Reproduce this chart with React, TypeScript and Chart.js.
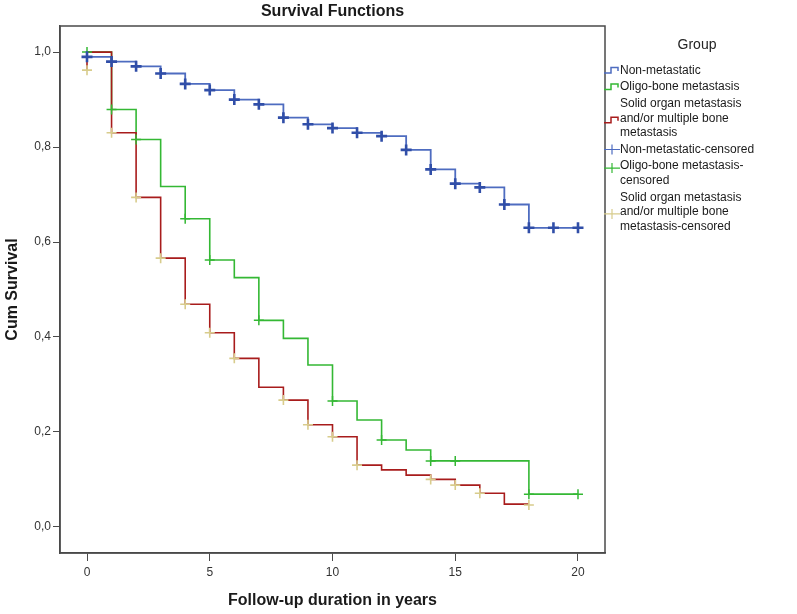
import React, { useEffect, useRef } from "react";
import { Chart, registerables } from "chart.js";

Chart.register(...registerables);

// ---- Data ----
const chartTitle = "Survival Functions";
const xAxisTitle = "Follow-up duration in years";
const yAxisTitle = "Cum Survival";
const legendTitle = "Group";

const xTickValues = [0, 5, 10, 15, 20];
const yTickValues = [0, 0.2, 0.4, 0.6, 0.8, 1.0];
const yTickLabels = ["0,0", "0,2", "0,4", "0,6", "0,8", "1,0"];

// Non-metastatic
const nonMetTimes = [0, 1, 2, 3, 4, 5, 6, 7, 8, 9, 10, 11, 12, 13, 14, 15, 16, 17, 18, 19, 20];
const nonMetSurv = [0.99, 0.98, 0.97, 0.955, 0.933, 0.92, 0.9, 0.89, 0.862, 0.848, 0.84, 0.83, 0.823, 0.794, 0.753, 0.723, 0.715, 0.679, 0.63, 0.63, 0.63];
const nonMetCensTimes = [0, 1, 2, 3, 4, 5, 6, 7, 8, 9, 10, 11, 12, 13, 14, 15, 16, 17, 18, 19, 20];
const nonMetCensSurv = [0.99, 0.98, 0.97, 0.955, 0.933, 0.92, 0.9, 0.89, 0.862, 0.848, 0.84, 0.83, 0.823, 0.794, 0.753, 0.723, 0.715, 0.679, 0.63, 0.63, 0.63];

// Oligo-bone metastasis
const oligoTimes = [0, 1, 2, 3, 4, 5, 6, 7, 8, 9, 10, 11, 12, 13, 14, 18, 20];
const oligoSurv = [1.0, 0.879, 0.816, 0.717, 0.649, 0.562, 0.525, 0.435, 0.397, 0.341, 0.265, 0.225, 0.183, 0.162, 0.139, 0.069, 0.069];
const oligoCensTimes = [0, 1, 2, 4, 5, 7, 10, 12, 14, 15, 18, 20];
const oligoCensSurv = [1.0, 0.879, 0.816, 0.649, 0.562, 0.435, 0.265, 0.183, 0.139, 0.139, 0.069, 0.069];

// Solid organ metastasis and/or multiple bone metastasis
const solidTimes = [0, 0, 1, 2, 3, 4, 5, 6, 7, 8, 9, 10, 11, 12, 13, 14, 15, 16, 17, 18];
const solidSurv = [0.962, 1.0, 0.83, 0.694, 0.566, 0.469, 0.409, 0.355, 0.294, 0.267, 0.215, 0.19, 0.13, 0.12, 0.109, 0.1, 0.088, 0.071, 0.048, 0.048];
const solidCensTimes = [0, 1, 2, 3, 4, 5, 6, 8, 9, 10, 11, 14, 15, 16, 18];
const solidCensSurv = [0.962, 0.83, 0.694, 0.566, 0.469, 0.409, 0.355, 0.267, 0.215, 0.19, 0.13, 0.1, 0.088, 0.071, 0.046];

const legendTexts = [
  ["Non-metastatic"],
  ["Oligo-bone metastasis"],
  ["Solid organ metastasis", "and/or multiple bone", "metastasis"],
  ["Non-metastatic-censored"],
  ["Oligo-bone metastasis-", "censored"],
  ["Solid organ metastasis", "and/or multiple bone", "metastasis-censored"],
];

// ---- Styles ----
const FONT = "'Liberation Sans', Arial, sans-serif";
const BLUE_LINE = "rgb(78,108,192)";
const BLUE_MARK = "rgb(48,78,168)";
const GREEN = "rgb(52,184,52)";
const RED = "rgb(168,28,28)";
const BEIGE = "rgb(216,204,140)";

function stepPoints(times: number[], surv: number[]) {
  const pts: { x: number; y: number }[] = [];
  for (let i = 0; i < times.length; i++) {
    if (i > 0) pts.push({ x: times[i], y: surv[i - 1] });
    pts.push({ x: times[i], y: surv[i] });
  }
  return pts;
}

function markPoints(times: number[], surv: number[]) {
  return times.map((t, i) => ({ x: t, y: surv[i] }));
}

const legendStyles = [
  { kind: "line", color: BLUE_LINE },
  { kind: "line", color: GREEN },
  { kind: "line", color: RED },
  { kind: "cens", color: BLUE_LINE },
  { kind: "cens", color: GREEN },
  { kind: "cens", color: BEIGE },
];

const decorPlugin = {
  id: "decor",
  beforeDatasetsDraw(chart: any) {
    const { ctx, chartArea } = chart;
    ctx.save();
    ctx.strokeStyle = "#4a4a4a";
    ctx.lineWidth = 1.5;
    ctx.strokeRect(chartArea.left, chartArea.top, chartArea.right - chartArea.left, chartArea.bottom - chartArea.top);
    ctx.restore();
  },
  afterDraw(chart: any) {
    const { ctx, chartArea } = chart;
    const cx = (chartArea.left + chartArea.right) / 2;
    ctx.save();
    ctx.fillStyle = "#1a1a1a";
    ctx.textAlign = "center";
    ctx.textBaseline = "middle";
    ctx.font = `bold 16px ${FONT}`;
    ctx.fillText(chartTitle, cx, 12);
    ctx.fillText(xAxisTitle, cx, 601);
    ctx.save();
    ctx.translate(13, (chartArea.top + chartArea.bottom) / 2);
    ctx.rotate(-Math.PI / 2);
    ctx.fillText(yAxisTitle, 0, 0);
    ctx.restore();

    // Legend
    ctx.font = `14px ${FONT}`;
    ctx.fillStyle = "#222";
    ctx.fillText(legendTitle, 697, 45);
    ctx.font = `12px ${FONT}`;
    ctx.textAlign = "left";
    const lh = 14.6;
    const gap = 2;
    let y = 70.5;
    const sx = 604;
    const tx = 620;
    legendTexts.forEach((lines, idx) => {
      const st = legendStyles[idx];
      const symY = y + Math.floor((lines.length - 1) / 2) * lh + (lines.length > 1 ? 2 : 0);
      ctx.strokeStyle = st.color;
      if (st.kind === "line") {
        ctx.lineWidth = 1.5;
        ctx.beginPath();
        ctx.moveTo(sx, symY + 2.5);
        ctx.lineTo(sx + 7, symY + 2.5);
        ctx.lineTo(sx + 7, symY - 3);
        ctx.lineTo(sx + 14, symY - 3);
        ctx.lineTo(sx + 14, symY + 0.5);
        ctx.stroke();
      } else {
        ctx.lineWidth = 1.2;
        ctx.beginPath();
        ctx.moveTo(sx, symY);
        ctx.lineTo(sx + 16, symY);
        ctx.moveTo(sx + 8, symY - 5);
        ctx.lineTo(sx + 8, symY + 5);
        ctx.stroke();
      }
      ctx.fillStyle = "#1a1a1a";
      lines.forEach((ln, j) => {
        ctx.fillText(ln, tx, y + j * lh);
      });
      y += lines.length * lh + gap;
    });
    ctx.restore();
  },
};

export default function App() {
  const ref = useRef<HTMLCanvasElement>(null);
  useEffect(() => {
    if (!ref.current) return;
    const lineDs = (label: string, pts: any[], color: string, width: number, order: number) => ({
      type: "line",
      label,
      data: pts,
      borderColor: color,
      backgroundColor: color,
      borderWidth: width,
      pointRadius: 0,
      showLine: true,
      tension: 0,
      fill: false,
      order,
    });
    const markDs = (label: string, pts: any[], color: string, width: number, radius: number, order: number) => ({
      type: "scatter",
      label,
      data: pts,
      borderColor: color,
      backgroundColor: color,
      pointStyle: "cross",
      pointRadius: radius,
      pointBorderWidth: width,
      borderWidth: width,
      showLine: false,
      order,
    });
    const chart = new Chart(ref.current, {
      type: "scatter",
      data: {
        datasets: [
          markDs("Non-metastatic-censored", markPoints(nonMetCensTimes, nonMetCensSurv), BLUE_MARK, 2.6, 5.5, 0),
          markDs("Oligo-bone metastasis-censored", markPoints(oligoCensTimes, oligoCensSurv), GREEN, 1.5, 5, 0),
          markDs("Solid organ metastasis and/or multiple bone metastasis-censored", markPoints(solidCensTimes, solidCensSurv), BEIGE, 1.6, 5, 0),
          lineDs("Solid organ metastasis and/or multiple bone metastasis", stepPoints(solidTimes, solidSurv), RED, 1.6, 1),
          lineDs("Oligo-bone metastasis", stepPoints(oligoTimes, oligoSurv), GREEN, 1.6, 2),
          lineDs("Non-metastatic", stepPoints(nonMetTimes, nonMetSurv), BLUE_LINE, 1.8, 3),
        ] as any,
      },
      options: {
        animation: false,
        responsive: false,
        maintainAspectRatio: false,
        devicePixelRatio: 1,
        layout: { padding: { top: 26, right: 192, left: 0, bottom: 0 } },
        plugins: {
          legend: { display: false },
          tooltip: { enabled: false },
          title: { display: false },
        },
        scales: {
          x: {
            type: "linear",
            min: -1.1,
            max: 21.1,
            afterBuildTicks: (s: any) => {
              s.ticks = xTickValues.map((v) => ({ value: v }));
            },
            afterFit: (s: any) => {
              s.height = 61;
            },
            grid: { drawOnChartArea: false, drawTicks: true, tickLength: 8, color: "#4a4a4a", lineWidth: 1 },
            border: { display: true, color: "#4a4a4a", width: 1.5 },
            ticks: {
              font: { family: FONT, size: 12 },
              color: "#333",
              padding: 4,
              maxRotation: 0,
              autoSkip: false,
              callback: (v: any) => String(v),
            },
          },
          y: {
            type: "linear",
            min: -0.055,
            max: 1.055,
            afterBuildTicks: (s: any) => {
              s.ticks = yTickValues.map((v) => ({ value: v }));
            },
            afterFit: (s: any) => {
              s.width = 60;
            },
            grid: { drawOnChartArea: false, drawTicks: true, tickLength: 7, color: "#4a4a4a", lineWidth: 1 },
            border: { display: true, color: "#4a4a4a", width: 1.5 },
            ticks: {
              font: { family: FONT, size: 12 },
              color: "#333",
              padding: 2,
              autoSkip: false,
              callback: (v: any) => {
                const i = yTickValues.findIndex((t) => Math.abs(t - v) < 1e-6);
                return i >= 0 ? yTickLabels[i] : "";
              },
            },
          },
        },
      } as any,
      plugins: [decorPlugin],
    });
    return () => chart.destroy();
  }, []);
  return (
    <div style={{ position: "fixed", left: 0, top: 0, width: 797, height: 614, background: "#fff" }}>
      <canvas ref={ref} width={797} height={614} style={{ display: "block", width: 797, height: 614 }} />
    </div>
  );
}
